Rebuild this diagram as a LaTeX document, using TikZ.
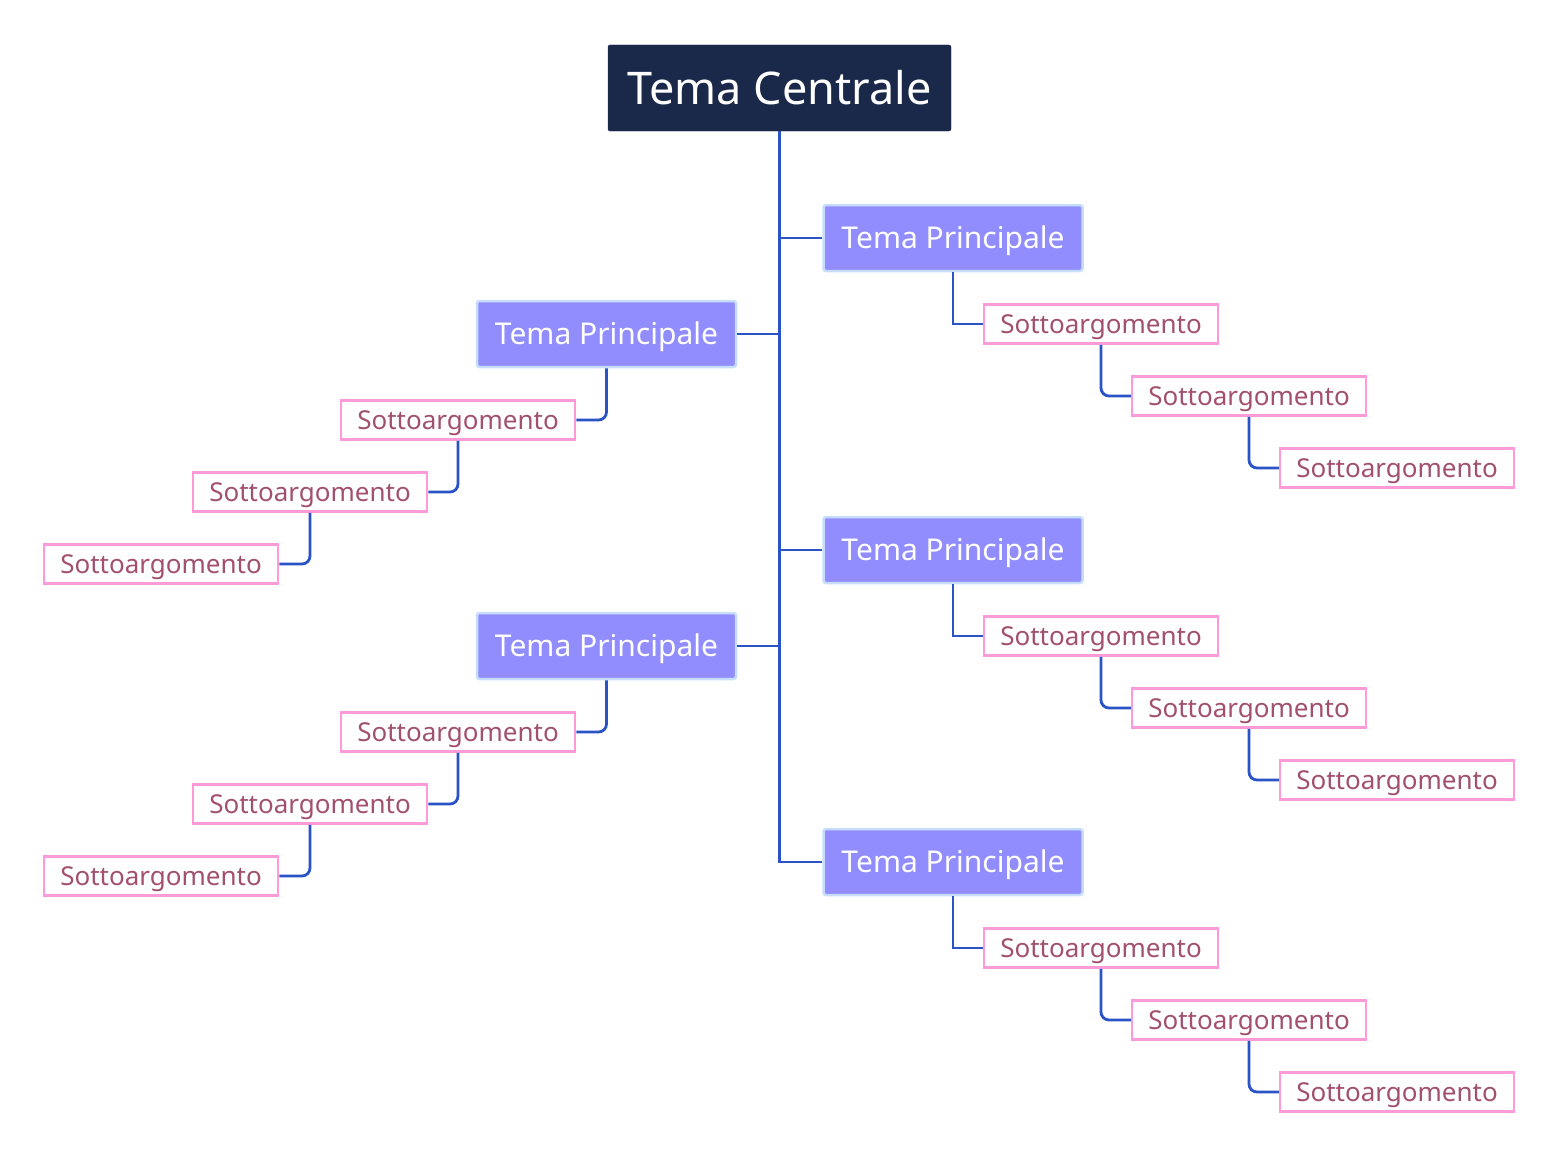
\documentclass[tikz,border=0pt]{standalone}
\usepackage{fontspec}
\setmainfont{Noto Sans}
\definecolor{navy}{HTML}{1A2849}
\definecolor{tpfill}{HTML}{918DFE}
\definecolor{tpborder}{HTML}{C6DDFB}
\definecolor{conncol}{HTML}{2A53C6}
\definecolor{sborder}{HTML}{FF9AD8}
\definecolor{stext}{HTML}{A2506F}
\tikzset{
  central/.style={fill=navy, draw=navy, rounded corners=2pt, minimum width=343pt, minimum height=86pt, text=white, font=\fontsize{45}{50}\selectfont, inner sep=0pt, text height=32.1pt, text depth=0pt},
  tp/.style={fill=tpfill, draw=tpborder, line width=2.5pt, rounded corners=2.5pt, minimum width=259pt, minimum height=66pt, text=white, font=\fontsize{30}{33}\selectfont, inner sep=0pt, text height=21.4pt, text depth=0pt},
  sub/.style={fill=white, draw=sborder, line width=2.5pt, minimum width=234pt, minimum height=39pt, text=stext, font=\fontsize{26}{29}\selectfont, inner sep=0pt, text height=18.6pt, text depth=0pt},
  conn/.style={draw=conncol, line width=2.8pt},
  connr/.style={draw=conncol, line width=2.8pt, rounded corners=8pt},
}
\begin{document}
\begin{tikzpicture}[x=1pt,y=-1pt]
\useasboundingbox (0,0) rectangle (1560,1172);
\node[central] (c) at (779.5,88) {Tema Centrale};
% right main topics
\node[tp] (r1) at (953,238) {Tema Principale};
\node[tp] (r2) at (953,550) {Tema Principale};
\node[tp] (r3) at (953,862) {Tema Principale};
% left main topics
\node[tp] (l1) at (606.5,334) {Tema Principale};
\node[tp] (l2) at (606.5,646) {Tema Principale};
% right subtopics
\foreach \g/\y in {1/324,2/636,3/948}{
  \node[sub] (r\g a) at (1101,\y) {Sottoargomento};
  \node[sub] (r\g b) at (1249,\y+72) {Sottoargomento};
  \node[sub] (r\g c) at (1397,\y+144) {Sottoargomento};
}
% left subtopics
\foreach \g/\y in {1/420,2/732}{
  \node[sub] (l\g a) at (458,\y) {Sottoargomento};
  \node[sub] (l\g b) at (310,\y+72) {Sottoargomento};
  \node[sub] (l\g c) at (161,\y+144) {Sottoargomento};
}
% trunk
\coordinate (tb) at (c.south |- r3.west);
\draw[conn] (c.south) -- (tb) -- (r3.west);
\draw[conn] (c.south |- r1.west) -- (r1.west);
\draw[conn] (c.south |- r2.west) -- (r2.west);
\draw[conn] (c.south |- l1.east) -- (l1.east);
\draw[conn] (c.south |- l2.east) -- (l2.east);
% right branches
\foreach \g in {1,2,3}{
  \draw[conn] (r\g.south) |- (r\g a.west);
  \draw[connr] (r\g a.south) |- (r\g b.west);
  \draw[connr] (r\g b.south) |- (r\g c.west);
}
% left branches
\foreach \g in {1,2}{
  \draw[connr] (l\g.south) |- (l\g a.east);
  \draw[connr] (l\g a.south) |- (l\g b.east);
  \draw[connr] (l\g b.south) |- (l\g c.east);
}
\end{tikzpicture}
\end{document}
